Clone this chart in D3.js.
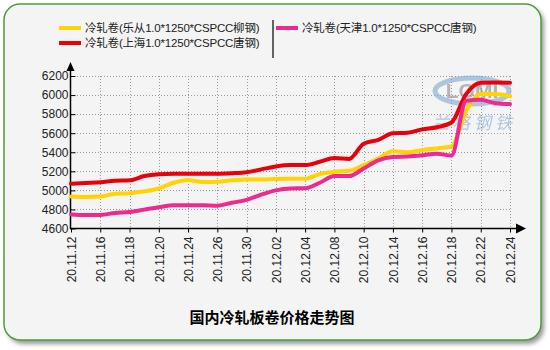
<!DOCTYPE html>
<html>
<head>
<meta charset="utf-8">
<script src="https://cdn.jsdelivr.net/npm/d3@7"></script>
<style>
  body { margin: 0; background: #fff; }
  svg { display: block; font-family: "Liberation Sans", Arial, "Noto Sans CJK SC", sans-serif; }
</style>
</head>
<body>
<svg id="chart"></svg>
<script>
let dates = ['20.11.12', '20.11.13', '20.11.16', '20.11.17', '20.11.18', '20.11.19', '20.11.20',
  '20.11.23', '20.11.24', '20.11.25', '20.11.26', '20.11.27', '20.11.30', '20.12.01', '20.12.02',
  '20.12.03', '20.12.04', '20.12.07', '20.12.08', '20.12.09', '20.12.10', '20.12.11', '20.12.14',
  '20.12.15', '20.12.16', '20.12.17', '20.12.18', '20.12.21', '20.12.22', '20.12.23', '20.12.24']

// 乐从 柳钢
let lecong = [4935, 4930, 4935, 4965, 4970, 4990, 5020, 5080, 5110, 5088, 5090, 5105, 5115, 5113, 5120,
  5123, 5123, 5170, 5195, 5205, 5265, 5335, 5410, 5400, 5425, 5440, 5460, 5830, 6010, 6010, 5990]
// 上海 唐钢
let shanghai = [5070, 5078, 5085, 5100, 5105, 5150, 5170, 5175, 5175, 5175, 5175, 5180, 5190, 5220, 5250,
  5265, 5265, 5300, 5340, 5330, 5490, 5530, 5600, 5605, 5640, 5662, 5712, 6010, 6130, 6132, 6130]
// 天津 唐钢
let tianjin = [4748, 4742, 4742, 4763, 4773, 4798, 4823, 4844, 4844, 4844, 4840, 4870, 4900, 4955, 5000,
  5020, 5022, 5080, 5150, 5150, 5230, 5315, 5350, 5355, 5368, 5385, 5365, 5940, 5950, 5915, 5905]

let seriesNames = ['冷轧卷(乐从1.0*1250*CSPCC柳钢)', '冷轧卷(上海1.0*1250*CSPCC唐钢)', '冷轧卷(天津1.0*1250*CSPCC唐钢)']
let seriesColors = ['#ffd400', '#e8000b', '#ee2a8f']
let yTicks = [4600, 4800, 5000, 5200, 5400, 5600, 5800, 6000, 6200]
let xLabels = dates.filter((d, i) => i % 2 === 0)
let title = '国内冷轧板卷价格走势图'

function drawChart () {
  let svgWidth = 550
  let svgHeight = 350

  let svg = d3.select('#chart')
    .attr('width', svgWidth)
    .attr('height', svgHeight)

  let defs = svg.append('defs')
  let blur = defs.append('filter').attr('id', 'shadow')
    .attr('x', '-10%').attr('y', '-10%').attr('width', '120%').attr('height', '120%')
  blur.append('feGaussianBlur').attr('stdDeviation', 2)

  // frame
  svg.append('rect')
    .attr('x', 7).attr('y', 7).attr('width', 537).attr('height', 337)
    .attr('rx', 16).attr('fill', '#9a9a9a').attr('filter', 'url(#shadow)')
  svg.append('rect')
    .attr('x', 4).attr('y', 4).attr('width', 537).attr('height', 336)
    .attr('rx', 16).attr('fill', '#f4f4f4')
    .attr('stroke', '#4f9a3f').attr('stroke-width', 1.5)

  let x = d3.scalePoint()
    .domain(dates)
    .range([71, 510])

  let y = d3.scaleLinear()
    .domain([4600, 6200])
    .range([228.5, 76])

  // grid
  let grid = svg.append('g')
    .attr('stroke', '#9a9a9a')
    .attr('stroke-dasharray', '1,2')
    .attr('stroke-width', 1)
  grid.selectAll('.hg')
    .data(yTicks.slice(1))
    .join('line')
    .attr('x1', 71).attr('x2', 511)
    .attr('y1', (d) => Math.round(y(d)) + 0.5)
    .attr('y2', (d) => Math.round(y(d)) + 0.5)
  grid.selectAll('.vg')
    .data(xLabels.slice(1))
    .join('line')
    .attr('x1', (d) => Math.round(x(d)) + 0.5)
    .attr('x2', (d) => Math.round(x(d)) + 0.5)
    .attr('y1', 76).attr('y2', 228)

  // watermark
  let wm = svg.append('g').attr('opacity', 0.6)
  wm.append('ellipse')
    .attr('cx', 472).attr('cy', 91).attr('rx', 37).attr('ry', 13)
    .attr('fill', 'none').attr('stroke', '#7ea6d6').attr('stroke-width', 5)
  wm.append('text')
    .attr('x', 472).attr('y', 98)
    .attr('text-anchor', 'middle')
    .attr('font-size', 21).attr('font-weight', 'bold')
    .attr('fill', '#8a8a8a')
    .text('LGMI')
  wm.append('text')
    .attr('x', 474).attr('y', 129)
    .attr('text-anchor', 'middle')
    .attr('font-size', 17).attr('font-style', 'italic')
    .attr('letter-spacing', 4)
    .attr('fill', '#7ea6d6')
    .text('兰格钢铁')

  // axes
  let yAxis = d3.axisLeft(y)
    .tickValues(yTicks)
    .tickSizeInner(-5)
    .tickSizeOuter(0)
    .tickPadding(2)
    .tickFormat(d3.format('d'))
  let gy = svg.append('g')
    .attr('transform', 'translate(70.5,0)')
    .call(yAxis)
  gy.select('.domain').remove()
  gy.selectAll('text').attr('font-size', 12).attr('fill', '#222')
    .attr('font-family', '"Liberation Sans", Arial, sans-serif')
  gy.selectAll('line').attr('stroke', '#000')

  let xAxis = d3.axisBottom(x)
    .tickValues(xLabels)
    .tickSizeInner(4)
    .tickSizeOuter(0)
  let gx = svg.append('g')
    .attr('transform', 'translate(0,228.5)')
    .call(xAxis)
  gx.select('.domain').remove()
  gx.selectAll('line').attr('stroke', '#000')
  gx.selectAll('text')
    .attr('font-size', 12)
    .attr('fill', '#222')
    .attr('font-family', '"Liberation Sans", Arial, sans-serif')
    .attr('text-anchor', 'end')
    .attr('transform', 'rotate(-90)')
    .attr('x', -8)
    .attr('y', 0)
    .attr('dy', '0.35em')

  svg.append('line')
    .attr('x1', 70.5).attr('x2', 70.5).attr('y1', 68).attr('y2', 229)
    .attr('stroke', '#000').attr('stroke-width', 1.5)
  svg.append('line')
    .attr('x1', 70).attr('x2', 518).attr('y1', 228.5).attr('y2', 228.5)
    .attr('stroke', '#000').attr('stroke-width', 1.5)
  svg.append('path')
    .attr('d', 'M70.5,62 L66.5,71 L74.5,71 Z')
    .attr('fill', '#000')
  svg.append('path')
    .attr('d', 'M526,228.5 L516,223.5 L516,233.5 Z')
    .attr('fill', '#000')

  // lines
  let line = d3.line()
    .x((d, i) => x(dates[i]))
    .y((d) => y(d))
    .curve(d3.curveMonotoneX)

  let allSeries = [lecong, shanghai, tianjin]
  svg.append('g')
    .selectAll('path')
    .data(allSeries)
    .join('path')
    .attr('d', (d) => line(d))
    .attr('fill', 'none')
    .attr('stroke', (d, i) => seriesColors[i])
    .attr('stroke-width', 4)
    .attr('stroke-linejoin', 'round')
    .attr('stroke-linecap', 'round')

  // legend
  let legendPos = [[59, 28], [59, 43], [276, 28]]
  let legend = svg.append('g')
    .selectAll('g')
    .data(seriesNames)
    .join('g')
    .attr('transform', (d, i) => `translate(${legendPos[i][0]}, ${legendPos[i][1]})`)
  legend.append('line')
    .attr('x1', 0).attr('x2', 22)
    .attr('stroke', (d, i) => seriesColors[i])
    .attr('stroke-width', 4)
  legend.append('text')
    .attr('x', 26)
    .attr('dy', '0.35em')
    .attr('font-size', 11.5)
    .attr('letter-spacing', -0.2)
    .attr('fill', '#222')
    .text((d) => d)

  svg.append('line')
    .attr('x1', 273).attr('x2', 273).attr('y1', 20).attr('y2', 58)
    .attr('stroke', '#333').attr('stroke-width', 1.5)

  svg.append('text')
    .attr('x', 272)
    .attr('y', 318)
    .attr('dy', '0.35em')
    .attr('text-anchor', 'middle')
    .attr('font-size', 15)
    .attr('font-weight', 'bold')
    .attr('fill', '#000')
    .attr('font-family', '"Noto Sans CJK SC", sans-serif')
    .text(title)
}

drawChart()
</script>
</body>
</html>
